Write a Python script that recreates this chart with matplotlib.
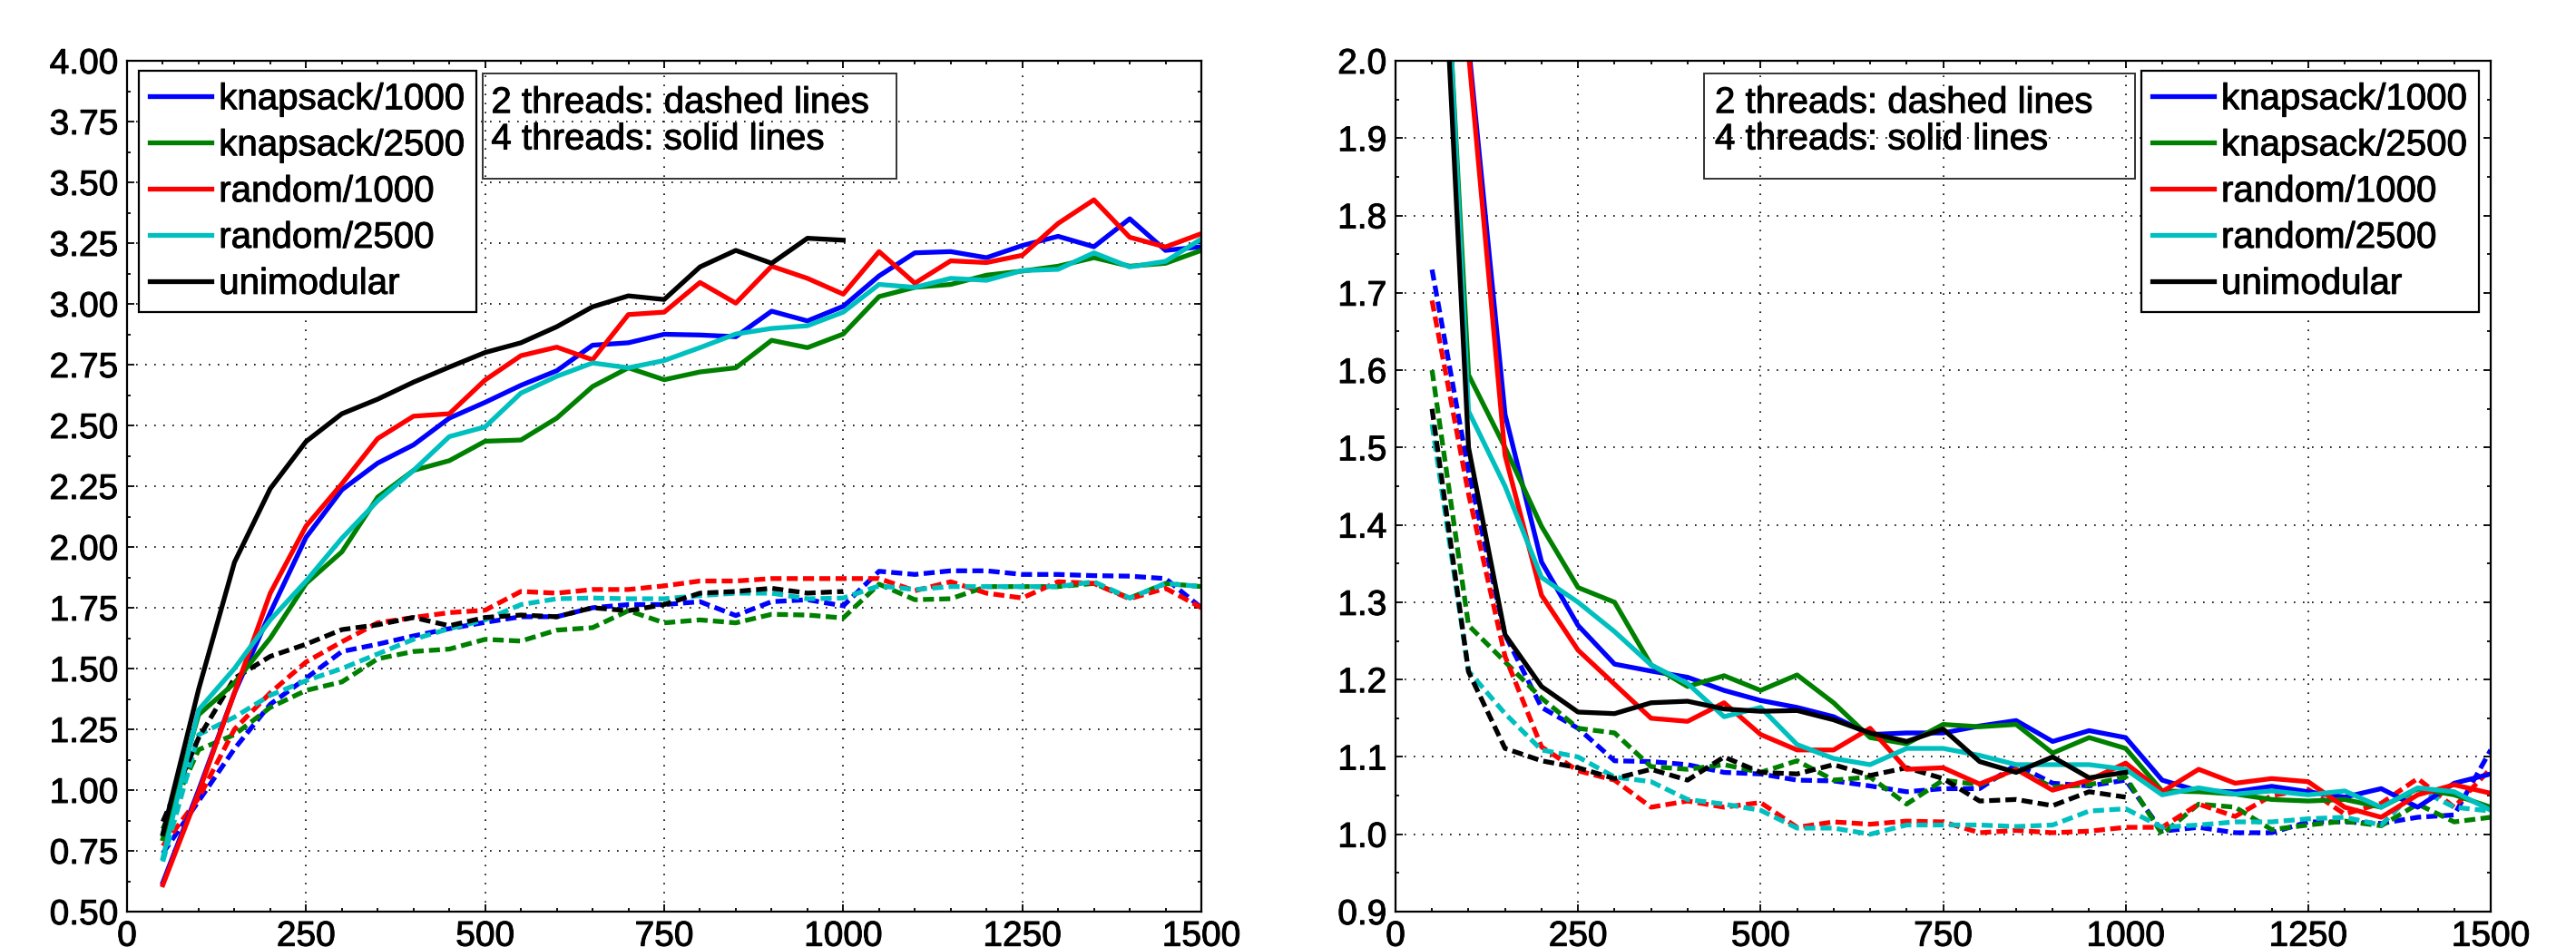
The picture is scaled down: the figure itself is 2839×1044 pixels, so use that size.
import matplotlib
matplotlib.use('Agg')
import matplotlib.pyplot as plt
import matplotlib.patheffects as pe
from matplotlib.ticker import MultipleLocator, FormatStrFormatter
from matplotlib.patches import Rectangle

plt.rcParams['font.family'] = ['Liberation Sans', 'DejaVu Sans']

# ---------------- data ----------------
n_all = [50, 100, 150, 200, 250, 300, 350, 400, 450, 500,
         550, 600, 650, 700, 750, 800, 850, 900, 950, 1000,
         1050, 1100, 1150, 1200, 1250, 1300, 1350, 1400, 1450, 1500]
n_uni = [50, 100, 150, 200, 250, 300, 350, 400, 450, 500,
         550, 600, 650, 700, 750, 800, 850, 900, 950, 1000]

names = ['knapsack/1000', 'knapsack/2500', 'random/1000', 'random/2500', 'unimodular']
colors = ['#0000ff', '#008000', '#ff0000', '#00bfbf', '#000000']

# left panel, 4 threads (solid)
L4_knap1000 = [0.62, 1.00, 1.40, 1.73, 2.04, 2.235, 2.345, 2.42, 2.53, 2.595,
               2.665, 2.725, 2.83, 2.84, 2.875, 2.872, 2.865, 2.97, 2.93, 2.99,
               3.115, 3.21, 3.215, 3.19, 3.24, 3.278, 3.235, 3.35, 3.22, 3.235]
L4_knap2500 = [0.80, 1.31, 1.44, 1.625, 1.85, 1.98, 2.205, 2.315, 2.355, 2.435,
               2.44, 2.53, 2.66, 2.737, 2.688, 2.72, 2.737, 2.85, 2.82, 2.876,
               3.03, 3.068, 3.08, 3.118, 3.135, 3.155, 3.19, 3.155, 3.167, 3.22]
L4_rand1000 = [0.61, 0.99, 1.40, 1.81, 2.086, 2.26, 2.446, 2.538, 2.548, 2.687,
               2.787, 2.822, 2.77, 2.956, 2.966, 3.088, 3.003, 3.155, 3.105, 3.04,
               3.215, 3.085, 3.177, 3.17, 3.20, 3.331, 3.428, 3.274, 3.234, 3.289]
L4_rand2500 = [0.72, 1.33, 1.50, 1.70, 1.86, 2.036, 2.19, 2.315, 2.454, 2.494,
               2.633, 2.702, 2.757, 2.737, 2.767, 2.82, 2.876, 2.899, 2.91, 2.966,
               3.08, 3.068, 3.105, 3.097, 3.137, 3.142, 3.21, 3.152, 3.175, 3.267]
L4_unimod = [0.82, 1.415, 1.937, 2.24, 2.434, 2.548, 2.608, 2.678, 2.74, 2.80,
             2.84, 2.906, 2.988, 3.033, 3.018, 3.152, 3.22, 3.167, 3.27, 3.262]

# left panel, 2 threads (dashed)
L2_knap1000 = [0.74, 0.955, 1.17, 1.353, 1.46, 1.57, 1.60, 1.634, 1.664, 1.69,
               1.713, 1.713, 1.75, 1.763, 1.763, 1.775, 1.718, 1.775, 1.783, 1.758,
               1.90, 1.887, 1.902, 1.902, 1.887, 1.887, 1.882, 1.88, 1.87, 1.75]
L2_knap2500 = [0.84, 1.166, 1.228, 1.34, 1.41, 1.445, 1.54, 1.57, 1.58, 1.62,
               1.613, 1.658, 1.668, 1.738, 1.688, 1.70, 1.688, 1.723, 1.72, 1.708,
               1.847, 1.783, 1.787, 1.837, 1.837, 1.837, 1.85, 1.79, 1.85, 1.837]
L2_rand1000 = [0.77, 0.967, 1.25, 1.40, 1.527, 1.61, 1.688, 1.71, 1.73, 1.74,
               1.817, 1.81, 1.825, 1.825, 1.84, 1.86, 1.86, 1.87, 1.87, 1.87,
               1.87, 1.82, 1.857, 1.81, 1.79, 1.857, 1.85, 1.787, 1.83, 1.75]
L2_rand2500 = [0.706, 1.228, 1.30, 1.39, 1.45, 1.50, 1.56, 1.62, 1.664, 1.70,
               1.763, 1.787, 1.79, 1.787, 1.787, 1.80, 1.81, 1.81, 1.787, 1.79,
               1.84, 1.825, 1.837, 1.837, 1.837, 1.837, 1.857, 1.79, 1.85, 1.837]
L2_unimod = [0.87, 1.215, 1.46, 1.55, 1.60, 1.66, 1.68, 1.71, 1.676, 1.71,
             1.72, 1.713, 1.75, 1.738, 1.763, 1.81, 1.817, 1.83, 1.81, 1.817]

# right panel, 4 threads (solid)
R4_knap1000 = [3.2, 2.02, 1.543, 1.352, 1.27, 1.22, 1.211, 1.203, 1.186, 1.173,
               1.164, 1.152, 1.129, 1.131, 1.131, 1.14, 1.147, 1.12, 1.134, 1.125,
               1.07, 1.056, 1.055, 1.062, 1.055, 1.048, 1.059, 1.035, 1.066, 1.078]
R4_knap2500 = [2.48, 1.594, 1.50, 1.398, 1.319, 1.30, 1.219, 1.191, 1.205, 1.186,
               1.206, 1.17, 1.125, 1.117, 1.142, 1.139, 1.142, 1.105, 1.125, 1.111,
               1.056, 1.055, 1.052, 1.045, 1.043, 1.045, 1.035, 1.059, 1.051, 1.035]
R4_rand1000 = [3.0, 2.01, 1.49, 1.309, 1.238, 1.194, 1.15, 1.146, 1.17, 1.129,
               1.109, 1.109, 1.137, 1.084, 1.086, 1.065, 1.084, 1.057, 1.07, 1.092,
               1.055, 1.084, 1.066, 1.072, 1.068, 1.035, 1.022, 1.051, 1.064, 1.053]
R4_rand2500 = [2.53, 1.547, 1.45, 1.332, 1.30, 1.262, 1.219, 1.195, 1.152, 1.164,
               1.116, 1.098, 1.09, 1.111, 1.111, 1.102, 1.09, 1.09, 1.09, 1.084,
               1.051, 1.06, 1.052, 1.056, 1.051, 1.056, 1.035, 1.06, 1.055, 1.031]
R4_unimod = [2.45, 1.50, 1.258, 1.191, 1.158, 1.156, 1.17, 1.172, 1.162, 1.159,
             1.16, 1.148, 1.131, 1.12, 1.136, 1.094, 1.08, 1.10, 1.073, 1.08]

# right panel, 2 threads (dashed)
R2_knap1000 = [1.73, 1.469, 1.258, 1.164, 1.137, 1.095, 1.094, 1.09, 1.08, 1.078,
               1.07, 1.069, 1.0625, 1.055, 1.059, 1.059, 1.09, 1.066, 1.0625, 1.07,
               1.004, 1.009, 1.002, 1.002, 1.016, 1.016, 1.014, 1.022, 1.025, 1.109]
R2_knap2500 = [1.60, 1.27, 1.223, 1.176, 1.137, 1.131, 1.0875, 1.084, 1.09, 1.08,
               1.095, 1.07, 1.074, 1.039, 1.07, 1.064, 1.084, 1.061, 1.064, 1.074,
               1.0, 1.039, 1.035, 1.006, 1.012, 1.017, 1.011, 1.039, 1.016, 1.022]
R2_rand1000 = [1.69, 1.44, 1.23, 1.113, 1.082, 1.07, 1.035, 1.043, 1.035, 1.041,
               1.009, 1.016, 1.013, 1.017, 1.016, 1.002, 1.005, 1.002, 1.004, 1.009,
               1.009, 1.039, 1.023, 1.05, 1.058, 1.026, 1.04, 1.072, 1.035, 1.085]
R2_rand2500 = [1.53, 1.211, 1.156, 1.109, 1.10, 1.074, 1.068, 1.045, 1.039, 1.031,
               1.008, 1.008, 1.0, 1.012, 1.012, 1.012, 1.01, 1.012, 1.03, 1.033,
               1.009, 1.012, 1.016, 1.016, 1.02, 1.022, 1.012, 1.059, 1.035, 1.03]
R2_unimod = [1.55, 1.21, 1.111, 1.095, 1.086, 1.072, 1.084, 1.07, 1.10, 1.08,
             1.078, 1.09, 1.076, 1.086, 1.072, 1.043, 1.045, 1.037, 1.055, 1.048]

note_lines = ['2 threads: dashed lines', '4 threads: solid lines']

left4 = [L4_knap1000, L4_knap2500, L4_rand1000, L4_rand2500, L4_unimod]
left2 = [L2_knap1000, L2_knap2500, L2_rand1000, L2_rand2500, L2_unimod]
right4 = [R4_knap1000, R4_knap2500, R4_rand1000, R4_rand2500, R4_unimod]
right2 = [R2_knap1000, R2_knap2500, R2_rand1000, R2_rand2500, R2_unimod]
xs = [n_all, n_all, n_all, n_all, n_uni]

# ---------------- figure ----------------
W, H = 2839, 1044
fig = plt.figure(figsize=(W / 100, H / 100), dpi=100)
ax1 = fig.add_axes([140 / W, 1 - 1005 / H, 1184 / W, 938 / H])
ax2 = fig.add_axes([1538 / W, 1 - 1005 / H, 1207 / W, 938 / H])

LW = 3.8
DASH = (0, (2.3, 1.1))
FS = 29
BOLDISH = [pe.withStroke(linewidth=0.7, foreground='black')]


def style(ax, ylim, ymaj, ymin, fmt):
    ax.set_xlim(0, 1500)
    ax.set_ylim(*ylim)
    ax.xaxis.set_major_locator(MultipleLocator(250))
    ax.xaxis.set_minor_locator(MultipleLocator(50))
    ax.yaxis.set_major_locator(MultipleLocator(ymaj))
    ax.yaxis.set_minor_locator(MultipleLocator(ymin))
    ax.yaxis.set_major_formatter(FormatStrFormatter(fmt))
    ax.tick_params(which='both', direction='in', top=True, right=True,
                   width=1.3, labelsize=28, color='black')
    ax.tick_params(which='major', length=6, pad=7)
    ax.tick_params(which='minor', length=3)
    ax.set_axisbelow(True)
    ax.grid(True, which='major', color='black', linestyle=(0, (1, 5)), linewidth=1.2)
    for s in ax.spines.values():
        s.set_linewidth(1.6)
    for lab in ax.get_xticklabels() + ax.get_yticklabels():
        lab.set_path_effects(BOLDISH)


def draw(ax, d2, d4):
    for x, y, c in zip(xs, d2, colors):
        ax.plot(x, y, color=c, lw=LW, linestyle=DASH, label='_nolegend_')
    handles = []
    for x, y, c, nm in zip(xs, d4, colors, names):
        h, = ax.plot(x, y, color=c, lw=LW, linestyle='-', label=nm)
        handles.append(h)
    return handles


def legend(ax, handles, loc, anchor):
    leg = ax.legend(handles=handles, loc=loc, bbox_to_anchor=anchor,
                    borderaxespad=0, fontsize=FS, frameon=True, fancybox=False,
                    edgecolor='black', framealpha=1, borderpad=0.3,
                    labelspacing=0.32, handlelength=1.69, handletextpad=0.2)
    leg.get_frame().set_linewidth(1.6)
    for t in leg.get_texts():
        t.set_path_effects(BOLDISH)
    leg.set_zorder(10)


def note(ax, x0, x1, tx):
    ax.add_patch(Rectangle((x0, 0.861), x1 - x0, 0.985 - 0.861, transform=ax.transAxes,
                           fill=False, edgecolor='#333333', linewidth=1.4, zorder=9))
    for txt, yb in zip(note_lines, [0.939, 0.896]):
        t = ax.text(tx, yb, txt, transform=ax.transAxes, fontsize=FS,
                    va='baseline', ha='left', zorder=9)
        t.set_path_effects(BOLDISH)


style(ax1, (0.5, 4.0), 0.25, 0.125, '%.2f')
h1 = draw(ax1, left2, left4)
legend(ax1, h1, 'upper left', (0.011, 0.988))
note(ax1, 0.331, 0.716, 0.339)

style(ax2, (0.9, 2.0), 0.1, 0.05, '%.1f')
h2 = draw(ax2, right2, right4)
legend(ax2, h2, 'upper right', (0.989, 0.988))
note(ax2, 0.282, 0.675, 0.2916)

fig.savefig('out.png', dpi=100)
